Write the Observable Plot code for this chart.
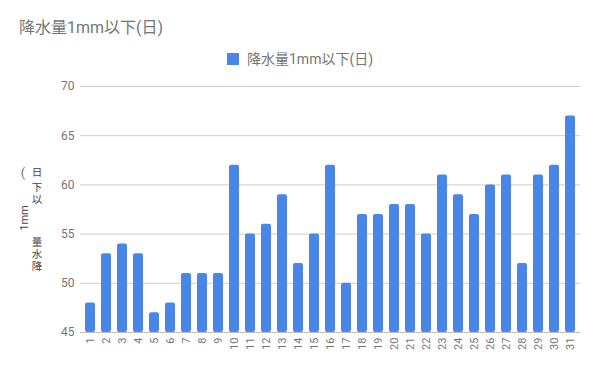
<!DOCTYPE html>
<html><head><meta charset="utf-8">
<script src="https://cdn.jsdelivr.net/npm/d3@7"></script>
<script src="https://cdn.jsdelivr.net/npm/@observablehq/plot@0.6"></script>
<style>
body{margin:0;background:#fff;font-family:Roboto,"Noto Sans CJK JP",sans-serif;}
#head{position:relative;height:72px;}
#title{position:absolute;left:19px;top:18px;font-size:16px;line-height:20px;color:#757575;}
#legend{position:absolute;left:227px;top:49px;font-size:14px;line-height:20px;color:#757575;display:flex;align-items:center;}
#legend span.sw{display:inline-block;width:12px;height:12px;background:#4a86e8;margin-right:8px;}
</style></head>
<body>
<div id="head"><div id="title">降水量1mm以下(日)</div><div id="legend"><span class="sw"></span><span>降水量1mm以下(日)</span></div></div>
<div id="chart"></div>
<script>
const days = ["1","2","3","4","5","6","7","8","9","10","11","12","13","14","15","16","17","18","19","20","21","22","23","24","25","26","27","28","29","30","31"];
const values = [48,53,54,53,47,48,51,51,51,62,55,56,59,52,55,62,50,57,57,58,58,55,61,59,57,60,61,52,61,62,67];
const yTicks = [45,50,55,60,65,70];
const data = days.map((d,i)=>({day:d,value:values[i]}));
const chart = Plot.plot({
  width:600, height:299,
  marginTop:14, marginBottom:39, marginLeft:80, marginRight:20,
  style:{fontFamily:'Roboto,"Noto Sans CJK JP",sans-serif', color:"#757575", fontSize:"12px"},
  x:{domain:days, paddingInner:0.378, paddingOuter:0.245, label:null},
  y:{domain:[45,70], label:null},
  marks:[
    Plot.gridY(yTicks,{stroke:"#cccccc", strokeOpacity:1}),
    Plot.ruleY([45],{stroke:"#bbbbbb"}),
    Plot.barY(data,{x:"day", y1:45, y2:"value", fill:"#4a86e8", rx:2}),
    Plot.axisY(yTicks,{tickSize:0, tickPadding:6, fontSize:12, fill:"#757575"}),
    Plot.axisX({tickSize:0, tickRotate:-90, tickPadding:5, fontSize:11, fill:"#757575"})
  ]
});
document.getElementById("chart").appendChild(chart);
// y-axis title (rendered as in the reference)
const svg = d3.select(chart);
const g = svg.append("g").attr("fill","#444").attr("font-size","11px");
const yOff = -72;
g.append("text").attr("transform",`translate(28,${218+yOff}) rotate(-90)`).attr("text-anchor","middle").text("1mm");
g.append("text").attr("x",23).attr("y",177+yOff).attr("text-anchor","middle").attr("font-size","13px").attr("fill","#777").text("(");
const chars = [["日",172],["下",187],["以",199],["量",242],["水",254],["降",266]];
chars.forEach(([c,y])=>g.append("text").attr("x",37).attr("y",y+yOff+4).attr("text-anchor","middle").attr("font-size","10.5px").text(c));
</script>
</body></html>
